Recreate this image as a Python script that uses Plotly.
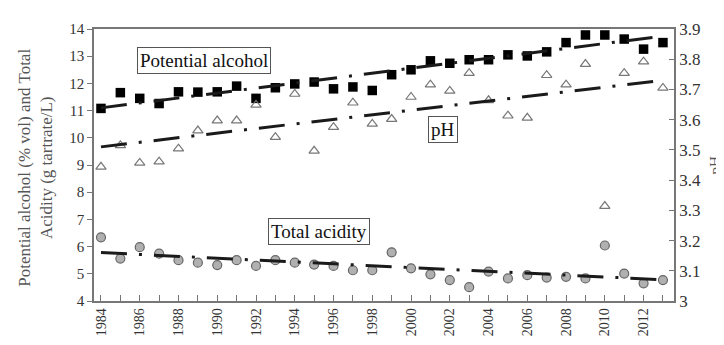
import plotly.graph_objects as go

years = list(range(1984, 2014))

potential_alcohol = [11.08, 11.66, 11.45, 11.26, 11.69, 11.68, 11.69, 11.90, 11.45, 11.84,
                     11.98, 12.05, 11.80, 11.87, 11.74, 12.32, 12.50, 12.83, 12.74, 12.87,
                     12.87, 13.05, 13.01, 13.16, 13.50, 13.78, 13.78, 13.63, 13.26, 13.50]

ph = [3.444, 3.515, 3.457, 3.461, 3.504, 3.564, 3.597, 3.597, 3.649, 3.542,
      3.685, 3.497, 3.575, 3.656, 3.586, 3.602, 3.675, 3.716, 3.695, 3.754,
      3.664, 3.613, 3.606, 3.747, 3.716, 3.784, 3.314, 3.754, 3.792, 3.705]

total_acidity = [6.34, 5.56, 5.98, 5.74, 5.50, 5.41, 5.32, 5.50, 5.29, 5.50,
                 5.41, 5.34, 5.29, 5.13, 5.13, 5.79, 5.20, 4.98, 4.77, 4.51,
                 5.08, 4.83, 4.95, 4.86, 4.89, 4.83, 6.04, 5.01, 4.65, 4.77]

# trend line end values (1984, 2013)
trend_years = [1984, 2013]
alcohol_trend = [11.10, 13.74]
ph_trend = [3.51, 3.73]
acidity_trend = [5.78, 4.78]

x_tick_vals = list(range(1984, 2013, 2))
x_tick_text = [str(v) for v in x_tick_vals]

left_title = "Potential alcohol (% vol) and Total<br>Acidity (g tartrate/L)"
right_title = "pH"
labels = ["Potential alcohol", "pH", "Total acidity"]

FONT = "Liberation Serif"
DASH = "26px,12px,3px,12px"

fig = go.Figure()

fig.add_trace(go.Scatter(x=years, y=potential_alcohol, mode="markers",
                         marker=dict(symbol="square", size=9.5, color="black",
                                     line=dict(width=0)), showlegend=False))
fig.add_trace(go.Scatter(x=years, y=total_acidity, mode="markers",
                         marker=dict(symbol="circle", size=9, color="#b0b0b0",
                                     line=dict(width=1.2, color="#666666")),
                         showlegend=False))
fig.add_trace(go.Scatter(x=years, y=ph, mode="markers", yaxis="y2",
                         marker=dict(symbol="triangle-up-open", size=9,
                                     color="#777777", line=dict(width=1.2)),
                         showlegend=False))

fig.add_trace(go.Scatter(x=trend_years, y=alcohol_trend, mode="lines",
                         line=dict(color="#1a1a1a", width=3, dash=DASH),
                         showlegend=False))
fig.add_trace(go.Scatter(x=trend_years, y=acidity_trend, mode="lines",
                         line=dict(color="#1a1a1a", width=3, dash=DASH),
                         showlegend=False))
fig.add_trace(go.Scatter(x=trend_years, y=ph_trend, mode="lines", yaxis="y2",
                         line=dict(color="#1a1a1a", width=3, dash=DASH),
                         showlegend=False))

box = dict(showarrow=False, xref="paper", yref="paper", xanchor="center",
           yanchor="middle", bordercolor="#555555", borderwidth=1, borderpad=2,
           bgcolor="white", font=dict(family=FONT, size=19, color="#111111"))
fig.add_annotation(text=labels[0], x=0.19, y=0.884, **box)
fig.add_annotation(text=labels[1], x=0.601, y=0.629, **box)
fig.add_annotation(text=labels[2], x=0.388, y=0.2554, **box)

fig.add_annotation(text=left_title, xref="paper", yref="paper", x=-0.1, y=0.49,
                   textangle=-90, showarrow=False, xanchor="center", yanchor="middle",
                   font=dict(family=FONT, size=17, color="#555555"))
fig.add_annotation(text=right_title, xref="paper", yref="paper", x=1.07, y=0.5,
                   textangle=-90, showarrow=False, xanchor="center", yanchor="middle",
                   font=dict(family=FONT, size=15, color="#555555"))

fig.update_layout(
    width=724, height=345,
    margin=dict(l=86, r=58, t=17, b=52),
    paper_bgcolor="white", plot_bgcolor="white",
    xaxis=dict(range=[1983.64, 2013.57], tickmode="array", tickvals=x_tick_vals,
               ticktext=x_tick_text, tickangle=-90, showgrid=False, zeroline=False,
               showline=True, linecolor="#777777", linewidth=1.5, mirror=True,
               ticks="inside", ticklen=6, tickcolor="#777777",
               tickfont=dict(family=FONT, size=14, color="#333333"),
               minor=dict(ticks="inside", ticklen=6, dtick=1, tickcolor="#777777", tick0=1984)),
    yaxis=dict(range=[4, 14], dtick=1, showgrid=False, zeroline=False,
               showline=True, linecolor="#777777", linewidth=1.5, mirror=True,
               ticks="outside", ticklen=5, tickcolor="#777777",
               tickfont=dict(family=FONT, size=15, color="#333333")),
    yaxis2=dict(range=[3, 3.9], dtick=0.1, overlaying="y", side="right",
                showgrid=False, zeroline=False, showline=True, linecolor="#777777",
                linewidth=1.5, ticks="inside", ticklen=5, tickcolor="#777777",
                tickfont=dict(family=FONT, size=17, color="#333333")),
)

fig.write_html("out.html")
